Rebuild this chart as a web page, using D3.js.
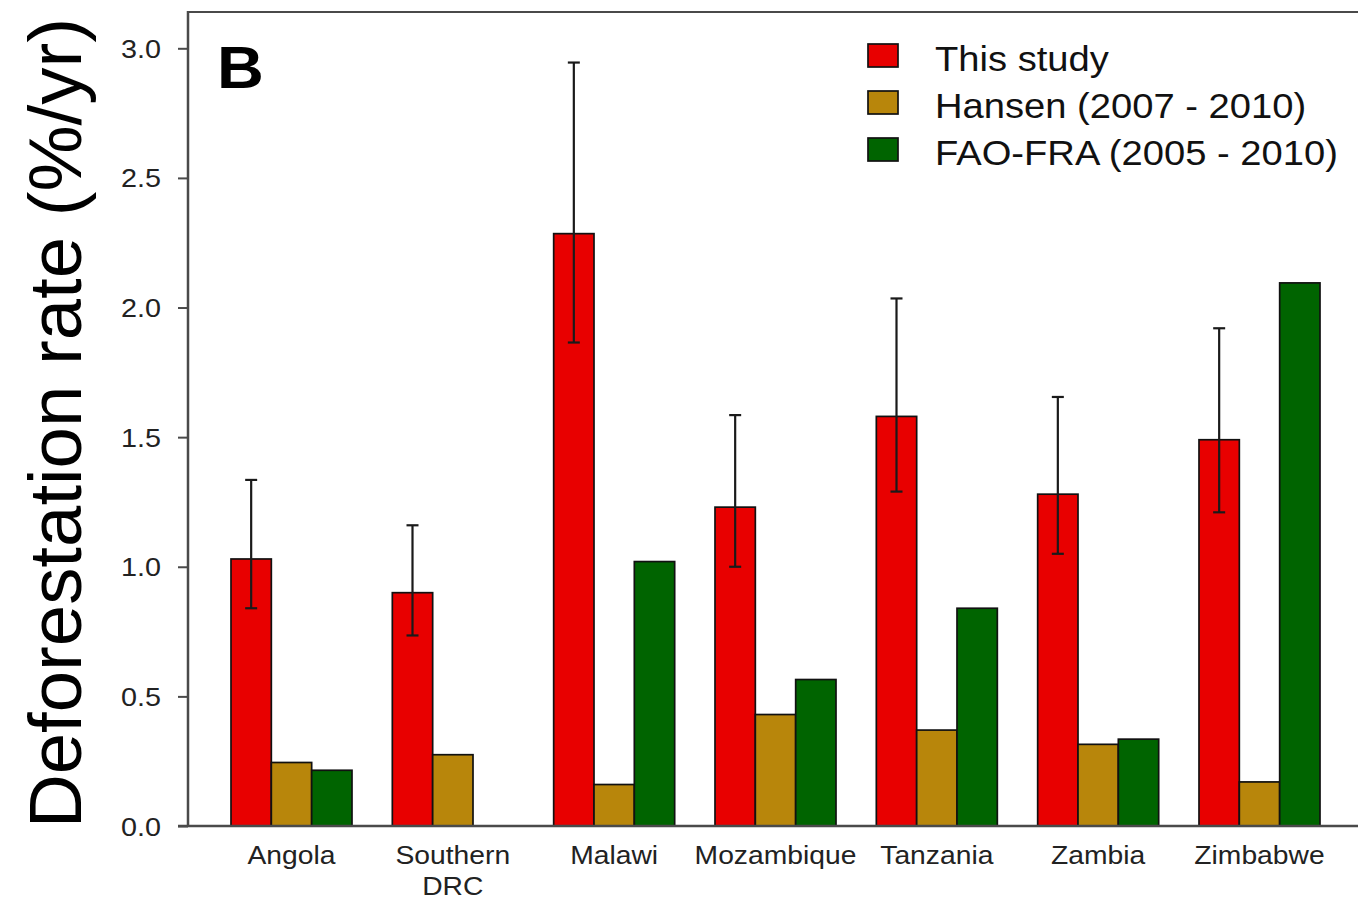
<!DOCTYPE html>
<html>
<head>
<meta charset="utf-8">
<script src="https://cdn.jsdelivr.net/npm/d3@7"></script>
<style>
  html, body { margin: 0; padding: 0; background: #fff; }
  svg { display: block; }
</style>
</head>
<body>
<svg id="chart" width="1358" height="899"></svg>
<script>
// Deforestation rates by country, three sources
const countries = ["Angola", "Southern DRC", "Malawi", "Mozambique", "Tanzania", "Zambia", "Zimbabwe"];
const countryLines = [["Angola"], ["Southern", "DRC"], ["Malawi"], ["Mozambique"], ["Tanzania"], ["Zambia"], ["Zimbabwe"]];
const seriesNames = ["This study", "Hansen (2007 - 2010)", "FAO-FRA (2005 - 2010)"];
const thisStudy = [1.03, 0.90, 2.285, 1.23, 1.58, 1.28, 1.49];
const thisStudyLow = [0.84, 0.735, 1.865, 1.00, 1.29, 1.05, 1.21];
const thisStudyHigh = [1.335, 1.16, 2.945, 1.585, 2.035, 1.655, 1.92];
const hansen = [0.245, 0.275, 0.16, 0.43, 0.37, 0.315, 0.17];
const faoFra = [0.215, null, 1.02, 0.565, 0.84, 0.335, 2.095];
const yTicks = [0.0, 0.5, 1.0, 1.5, 2.0, 2.5, 3.0];
const seriesColors = ["#e80000", "#b8860b", "#006400"];

const svg = d3.select("#chart");
const axisColor = "#4a4a4a";

const plotLeft = 188, plotRight = 1362, plotTop = 12, plotBottom = 826;

const y = d3.scaleLinear().domain([0, 3.14]).range([plotBottom, plotTop]);
const x0 = d3.scaleBand().domain(countries).range([231, 1320]).paddingInner(0.25).paddingOuter(0);
const x1 = d3.scaleBand().domain(seriesNames).range([0, x0.bandwidth()]).padding(0);

const seriesValues = [thisStudy, hansen, faoFra];

// glyphs in this figure are set slightly wide
function widen(sel, k) {
  sel.each(function () {
    const len = this.getComputedTextLength();
    d3.select(this).attr("textLength", len * k).attr("lengthAdjust", "spacingAndGlyphs");
  });
}

// top frame line
svg.append("line").attr("x1", plotLeft).attr("x2", plotRight).attr("y1", plotTop).attr("y2", plotTop)
  .attr("stroke", axisColor).attr("stroke-width", 2);

// y axis
const yAxis = svg.append("g").attr("transform", `translate(${plotLeft},0)`)
  .call(d3.axisLeft(y).tickValues(yTicks).tickFormat(d3.format(".1f")).tickSize(10).tickPadding(17));
yAxis.select(".domain").remove();
yAxis.selectAll(".tick line").attr("stroke", axisColor).attr("stroke-width", 2);
yAxis.selectAll(".tick text")
  .attr("font-family", "Liberation Sans, Arial, sans-serif")
  .attr("font-size", 25).attr("fill", "#222").attr("dy", "0.36em");
widen(yAxis.selectAll(".tick text"), 1.15);
svg.append("line").attr("x1", plotLeft).attr("x2", plotLeft).attr("y1", plotTop - 1).attr("y2", plotBottom + 1)
  .attr("stroke", axisColor).attr("stroke-width", 2.5);

// bars
const groups = svg.append("g").selectAll("g").data(countries).join("g")
  .attr("transform", d => `translate(${x0(d)},0)`);

groups.selectAll("rect")
  .data((c, i) => seriesNames.map((s, k) => ({ s, k, v: seriesValues[k][i] })).filter(d => d.v != null))
  .join("rect")
  .attr("x", d => x1(d.s))
  .attr("width", x1.bandwidth())
  .attr("y", d => y(d.v))
  .attr("height", d => y(0) - y(d.v))
  .attr("fill", d => seriesColors[d.k])
  .attr("stroke", "#111")
  .attr("stroke-width", 1.7);

// error bars on "This study"
const capW = 12;
const err = svg.append("g").selectAll("g").data(countries).join("g")
  .attr("transform", d => `translate(${x0(d) + x1(seriesNames[0]) + x1.bandwidth() / 2},0)`);
err.append("line")
  .attr("x1", 0).attr("x2", 0)
  .attr("y1", (d, i) => y(thisStudyLow[i])).attr("y2", (d, i) => y(thisStudyHigh[i]))
  .attr("stroke", "#1a1a1a").attr("stroke-width", 2.2);
err.append("line")
  .attr("x1", -capW / 2).attr("x2", capW / 2)
  .attr("y1", (d, i) => y(thisStudyHigh[i])).attr("y2", (d, i) => y(thisStudyHigh[i]))
  .attr("stroke", "#1a1a1a").attr("stroke-width", 2.2);
err.append("line")
  .attr("x1", -capW / 2).attr("x2", capW / 2)
  .attr("y1", (d, i) => y(thisStudyLow[i])).attr("y2", (d, i) => y(thisStudyLow[i]))
  .attr("stroke", "#1a1a1a").attr("stroke-width", 2.2);

// bottom axis line
svg.append("line").attr("x1", plotLeft - 10).attr("x2", plotRight).attr("y1", y(0)).attr("y2", y(0))
  .attr("stroke", axisColor).attr("stroke-width", 2.5);

// category labels
const xl = svg.append("g").selectAll("text").data(countries).join("text")
  .attr("x", d => x0(d) + x0.bandwidth() / 2)
  .attr("y", 864)
  .attr("text-anchor", "middle")
  .attr("font-family", "Liberation Sans, Arial, sans-serif")
  .attr("font-size", 25).attr("fill", "#222");
xl.selectAll("tspan").data((d, i) => countryLines[i]).join("tspan")
  .attr("x", function () { return d3.select(this.parentNode).attr("x"); })
  .attr("dy", (d, j) => j === 0 ? 0 : 31)
  .text(d => d);
widen(xl.selectAll("tspan"), 1.13);

// panel letter
const letter = svg.append("text").attr("x", 217).attr("y", 88)
  .attr("font-family", "Liberation Sans, Arial, sans-serif")
  .attr("font-weight", "bold").attr("font-size", 60).attr("fill", "#000").text("B");
widen(letter, 1.08);

// y title
svg.append("text")
  .attr("transform", `translate(81,${(828 + 18) / 2}) rotate(-90)`)
  .attr("text-anchor", "middle")
  .attr("font-family", "Liberation Sans Narrow, Arial Narrow, Liberation Sans, sans-serif")
  .attr("font-size", 74).attr("fill", "#000")
  .attr("textLength", 810).attr("lengthAdjust", "spacingAndGlyphs")
  .text("Deforestation rate (%/yr)");

// legend
const legend = svg.append("g").selectAll("g").data(seriesNames).join("g")
  .attr("transform", (d, i) => `translate(868,${44 + i * 47})`);
legend.append("rect").attr("width", 30).attr("height", 23)
  .attr("fill", (d, i) => seriesColors[i]).attr("stroke", "#111").attr("stroke-width", 1.7);
const lt = legend.append("text").attr("x", 67).attr("y", 27)
  .attr("font-family", "Liberation Sans, Arial, sans-serif")
  .attr("font-size", 35).attr("fill", "#111").text(d => d);
widen(lt, 1.09);
</script>
</body>
</html>
